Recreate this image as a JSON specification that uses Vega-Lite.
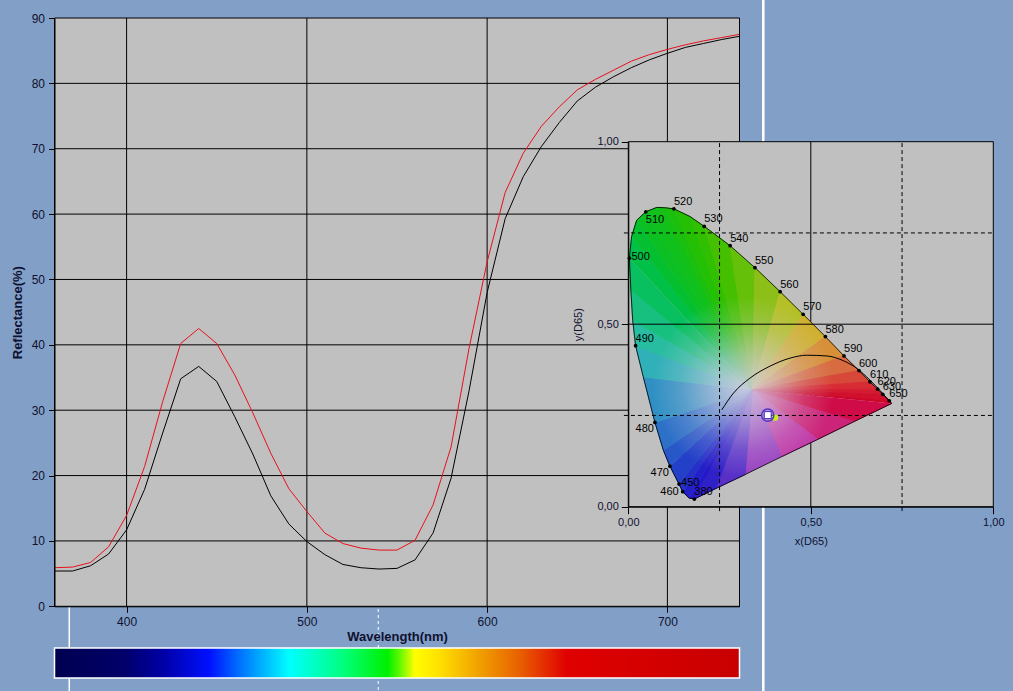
{
  "$schema": "https://vega.github.io/schema/vega-lite/v6.json",
  "width": 1013,
  "height": 691,
  "autosize": "none",
  "padding": 0,
  "background": "#82a0c7",
  "config": {
    "view": {"stroke": null},
    "font": "Liberation Sans",
    "axis": {
      "labelColor": "#101030",
      "titleColor": "#101030",
      "tickColor": "#000000",
      "domainColor": "#000000",
      "labelFlush": false,
      "labelOverlap": false,
      "grid": false,
      "domainWidth": 1,
      "tickWidth": 1
    }
  },
  "datasets": {
    "refl": [
      {"wl": 360, "v": 5.4, "s": "b"}, {"wl": 370, "v": 5.4, "s": "b"}, {"wl": 380, "v": 6.2, "s": "b"},
      {"wl": 390, "v": 8.0, "s": "b"}, {"wl": 400, "v": 11.7, "s": "b"}, {"wl": 410, "v": 17.9, "s": "b"},
      {"wl": 420, "v": 26.5, "s": "b"}, {"wl": 430, "v": 34.8, "s": "b"}, {"wl": 440, "v": 36.7, "s": "b"},
      {"wl": 450, "v": 34.4, "s": "b"}, {"wl": 460, "v": 29.0, "s": "b"}, {"wl": 470, "v": 23.3, "s": "b"},
      {"wl": 480, "v": 16.9, "s": "b"}, {"wl": 490, "v": 12.6, "s": "b"}, {"wl": 500, "v": 9.9, "s": "b"},
      {"wl": 510, "v": 7.9, "s": "b"}, {"wl": 520, "v": 6.4, "s": "b"}, {"wl": 530, "v": 5.9, "s": "b"},
      {"wl": 540, "v": 5.7, "s": "b"}, {"wl": 550, "v": 5.8, "s": "b"}, {"wl": 560, "v": 7.1, "s": "b"},
      {"wl": 570, "v": 11.2, "s": "b"}, {"wl": 580, "v": 19.6, "s": "b"}, {"wl": 590, "v": 33.0, "s": "b"},
      {"wl": 600, "v": 48.0, "s": "b"}, {"wl": 610, "v": 59.3, "s": "b"}, {"wl": 620, "v": 65.7, "s": "b"},
      {"wl": 630, "v": 70.3, "s": "b"}, {"wl": 640, "v": 74.0, "s": "b"}, {"wl": 650, "v": 77.3, "s": "b"},
      {"wl": 660, "v": 79.4, "s": "b"}, {"wl": 670, "v": 81.0, "s": "b"}, {"wl": 680, "v": 82.4, "s": "b"},
      {"wl": 690, "v": 83.6, "s": "b"}, {"wl": 700, "v": 84.6, "s": "b"}, {"wl": 710, "v": 85.5, "s": "b"},
      {"wl": 720, "v": 86.1, "s": "b"}, {"wl": 730, "v": 86.7, "s": "b"}, {"wl": 740, "v": 87.2, "s": "b"},
      {"wl": 360, "v": 5.9, "s": "r"}, {"wl": 370, "v": 6.0, "s": "r"}, {"wl": 380, "v": 6.7, "s": "r"},
      {"wl": 390, "v": 9.1, "s": "r"}, {"wl": 400, "v": 13.9, "s": "r"}, {"wl": 410, "v": 21.4, "s": "r"},
      {"wl": 420, "v": 31.3, "s": "r"}, {"wl": 430, "v": 40.2, "s": "r"}, {"wl": 440, "v": 42.5, "s": "r"},
      {"wl": 450, "v": 40.2, "s": "r"}, {"wl": 460, "v": 35.4, "s": "r"}, {"wl": 470, "v": 29.6, "s": "r"},
      {"wl": 480, "v": 23.4, "s": "r"}, {"wl": 490, "v": 18.0, "s": "r"}, {"wl": 500, "v": 14.5, "s": "r"},
      {"wl": 510, "v": 11.2, "s": "r"}, {"wl": 520, "v": 9.6, "s": "r"}, {"wl": 530, "v": 8.9, "s": "r"},
      {"wl": 540, "v": 8.6, "s": "r"}, {"wl": 550, "v": 8.6, "s": "r"}, {"wl": 560, "v": 10.1, "s": "r"},
      {"wl": 570, "v": 15.5, "s": "r"}, {"wl": 580, "v": 24.4, "s": "r"}, {"wl": 590, "v": 39.5, "s": "r"},
      {"wl": 600, "v": 52.7, "s": "r"}, {"wl": 610, "v": 63.3, "s": "r"}, {"wl": 620, "v": 69.3, "s": "r"},
      {"wl": 630, "v": 73.4, "s": "r"}, {"wl": 640, "v": 76.4, "s": "r"}, {"wl": 650, "v": 79.0, "s": "r"},
      {"wl": 660, "v": 80.6, "s": "r"}, {"wl": 670, "v": 82.0, "s": "r"}, {"wl": 680, "v": 83.4, "s": "r"},
      {"wl": 690, "v": 84.4, "s": "r"}, {"wl": 700, "v": 85.2, "s": "r"}, {"wl": 710, "v": 85.9, "s": "r"},
      {"wl": 720, "v": 86.5, "s": "r"}, {"wl": 730, "v": 87.0, "s": "r"}, {"wl": 740, "v": 87.5, "s": "r"}
    ],
    "mgy": [{"v": 10}, {"v": 20}, {"v": 30}, {"v": 40}, {"v": 50}, {"v": 60}, {"v": 70}, {"v": 80}],
    "mgx": [{"w": 400}, {"w": 500}, {"w": 600}, {"w": 700}],
    "ig": [{"g": 0.25}, {"g": 0.75}],
    "outline": [
      {"o": 1, "x": 0.181, "y": 0.021}, {"o": 2, "x": 0.166, "y": 0.024}, {"o": 3, "x": 0.149, "y": 0.041},
      {"o": 4, "x": 0.139, "y": 0.062}, {"o": 5, "x": 0.114, "y": 0.111}, {"o": 6, "x": 0.096, "y": 0.155},
      {"o": 7, "x": 0.073, "y": 0.231}, {"o": 8, "x": 0.041, "y": 0.356}, {"o": 9, "x": 0.020, "y": 0.441},
      {"o": 10, "x": 0.012, "y": 0.511}, {"o": 11, "x": 0.007, "y": 0.594}, {"o": 12, "x": 0.003, "y": 0.681},
      {"o": 13, "x": 0.009, "y": 0.740}, {"o": 14, "x": 0.023, "y": 0.785}, {"o": 15, "x": 0.048, "y": 0.808},
      {"o": 16, "x": 0.078, "y": 0.820}, {"o": 17, "x": 0.101, "y": 0.819}, {"o": 18, "x": 0.125, "y": 0.816},
      {"o": 19, "x": 0.169, "y": 0.795}, {"o": 20, "x": 0.208, "y": 0.768}, {"o": 21, "x": 0.279, "y": 0.715},
      {"o": 22, "x": 0.347, "y": 0.655}, {"o": 23, "x": 0.416, "y": 0.589}, {"o": 24, "x": 0.479, "y": 0.527},
      {"o": 25, "x": 0.540, "y": 0.466}, {"o": 26, "x": 0.591, "y": 0.413}, {"o": 27, "x": 0.632, "y": 0.373},
      {"o": 28, "x": 0.662, "y": 0.342}, {"o": 29, "x": 0.683, "y": 0.322}, {"o": 30, "x": 0.697, "y": 0.308},
      {"o": 31, "x": 0.715, "y": 0.290}, {"o": 32, "x": 0.722, "y": 0.283}, {"o": 33, "x": 0.620, "y": 0.234},
      {"o": 34, "x": 0.520, "y": 0.185}, {"o": 35, "x": 0.420, "y": 0.137}, {"o": 36, "x": 0.320, "y": 0.088},
      {"o": 37, "x": 0.240, "y": 0.050}, {"o": 38, "x": 0.181, "y": 0.021}
    ],
    "fan": [
      {"t": 1, "x": 0.34, "y": 0.32, "c": "#2418c8"}, {"t": 1, "x": 0.181, "y": 0.021, "c": "#2418c8"}, {"t": 1, "x": 0.166, "y": 0.024, "c": "#2418c8"},
      {"t": 2, "x": 0.34, "y": 0.32, "c": "#2420c8"}, {"t": 2, "x": 0.166, "y": 0.024, "c": "#2420c8"}, {"t": 2, "x": 0.149, "y": 0.041, "c": "#2420c8"},
      {"t": 3, "x": 0.34, "y": 0.32, "c": "#2430c8"}, {"t": 3, "x": 0.149, "y": 0.041, "c": "#2430c8"}, {"t": 3, "x": 0.139, "y": 0.062, "c": "#2430c8"},
      {"t": 4, "x": 0.34, "y": 0.32, "c": "#2240c8"}, {"t": 4, "x": 0.139, "y": 0.062, "c": "#2240c8"}, {"t": 4, "x": 0.114, "y": 0.111, "c": "#2240c8"},
      {"t": 5, "x": 0.34, "y": 0.32, "c": "#2858c8"}, {"t": 5, "x": 0.114, "y": 0.111, "c": "#2858c8"}, {"t": 5, "x": 0.096, "y": 0.155, "c": "#2858c8"},
      {"t": 6, "x": 0.34, "y": 0.32, "c": "#2c70c8"}, {"t": 6, "x": 0.096, "y": 0.155, "c": "#2c70c8"}, {"t": 6, "x": 0.073, "y": 0.231, "c": "#2c70c8"},
      {"t": 7, "x": 0.34, "y": 0.32, "c": "#3090c4"}, {"t": 7, "x": 0.073, "y": 0.231, "c": "#3090c4"}, {"t": 7, "x": 0.041, "y": 0.356, "c": "#3090c4"},
      {"t": 8, "x": 0.34, "y": 0.32, "c": "#30b0b8"}, {"t": 8, "x": 0.041, "y": 0.356, "c": "#30b0b8"}, {"t": 8, "x": 0.020, "y": 0.441, "c": "#30b0b8"},
      {"t": 9, "x": 0.34, "y": 0.32, "c": "#28bca0"}, {"t": 9, "x": 0.020, "y": 0.441, "c": "#28bca0"}, {"t": 9, "x": 0.012, "y": 0.511, "c": "#28bca0"},
      {"t": 10, "x": 0.34, "y": 0.32, "c": "#18c080"}, {"t": 10, "x": 0.012, "y": 0.511, "c": "#18c080"}, {"t": 10, "x": 0.007, "y": 0.594, "c": "#18c080"},
      {"t": 11, "x": 0.34, "y": 0.32, "c": "#08c060"}, {"t": 11, "x": 0.007, "y": 0.594, "c": "#08c060"}, {"t": 11, "x": 0.003, "y": 0.681, "c": "#08c060"},
      {"t": 12, "x": 0.34, "y": 0.32, "c": "#00c048"}, {"t": 12, "x": 0.003, "y": 0.681, "c": "#00c048"}, {"t": 12, "x": 0.009, "y": 0.740, "c": "#00c048"},
      {"t": 13, "x": 0.34, "y": 0.32, "c": "#04c030"}, {"t": 13, "x": 0.009, "y": 0.740, "c": "#04c030"}, {"t": 13, "x": 0.023, "y": 0.785, "c": "#04c030"},
      {"t": 14, "x": 0.34, "y": 0.32, "c": "#0cc024"}, {"t": 14, "x": 0.023, "y": 0.785, "c": "#0cc024"}, {"t": 14, "x": 0.048, "y": 0.808, "c": "#0cc024"},
      {"t": 15, "x": 0.34, "y": 0.32, "c": "#10c01c"}, {"t": 15, "x": 0.048, "y": 0.808, "c": "#10c01c"}, {"t": 15, "x": 0.078, "y": 0.820, "c": "#10c01c"},
      {"t": 16, "x": 0.34, "y": 0.32, "c": "#14c014"}, {"t": 16, "x": 0.078, "y": 0.820, "c": "#14c014"}, {"t": 16, "x": 0.101, "y": 0.819, "c": "#14c014"},
      {"t": 17, "x": 0.34, "y": 0.32, "c": "#1cc00c"}, {"t": 17, "x": 0.101, "y": 0.819, "c": "#1cc00c"}, {"t": 17, "x": 0.125, "y": 0.816, "c": "#1cc00c"},
      {"t": 18, "x": 0.34, "y": 0.32, "c": "#24c004"}, {"t": 18, "x": 0.125, "y": 0.816, "c": "#24c004"}, {"t": 18, "x": 0.169, "y": 0.795, "c": "#24c004"},
      {"t": 19, "x": 0.34, "y": 0.32, "c": "#30c000"}, {"t": 19, "x": 0.169, "y": 0.795, "c": "#30c000"}, {"t": 19, "x": 0.208, "y": 0.768, "c": "#30c000"},
      {"t": 20, "x": 0.34, "y": 0.32, "c": "#44c000"}, {"t": 20, "x": 0.208, "y": 0.768, "c": "#44c000"}, {"t": 20, "x": 0.279, "y": 0.715, "c": "#44c000"},
      {"t": 21, "x": 0.34, "y": 0.32, "c": "#64c008"}, {"t": 21, "x": 0.279, "y": 0.715, "c": "#64c008"}, {"t": 21, "x": 0.347, "y": 0.655, "c": "#64c008"},
      {"t": 22, "x": 0.34, "y": 0.32, "c": "#8cc018"}, {"t": 22, "x": 0.347, "y": 0.655, "c": "#8cc018"}, {"t": 22, "x": 0.416, "y": 0.589, "c": "#8cc018"},
      {"t": 23, "x": 0.34, "y": 0.32, "c": "#b4c028"}, {"t": 23, "x": 0.416, "y": 0.589, "c": "#b4c028"}, {"t": 23, "x": 0.479, "y": 0.527, "c": "#b4c028"},
      {"t": 24, "x": 0.34, "y": 0.32, "c": "#d0b030"}, {"t": 24, "x": 0.479, "y": 0.527, "c": "#d0b030"}, {"t": 24, "x": 0.540, "y": 0.466, "c": "#d0b030"},
      {"t": 25, "x": 0.34, "y": 0.32, "c": "#d89038"}, {"t": 25, "x": 0.540, "y": 0.466, "c": "#d89038"}, {"t": 25, "x": 0.591, "y": 0.413, "c": "#d89038"},
      {"t": 26, "x": 0.34, "y": 0.32, "c": "#d86c40"}, {"t": 26, "x": 0.591, "y": 0.413, "c": "#d86c40"}, {"t": 26, "x": 0.632, "y": 0.373, "c": "#d86c40"},
      {"t": 27, "x": 0.34, "y": 0.32, "c": "#d84838"}, {"t": 27, "x": 0.632, "y": 0.373, "c": "#d84838"}, {"t": 27, "x": 0.662, "y": 0.342, "c": "#d84838"},
      {"t": 28, "x": 0.34, "y": 0.32, "c": "#d82c34"}, {"t": 28, "x": 0.662, "y": 0.342, "c": "#d82c34"}, {"t": 28, "x": 0.683, "y": 0.322, "c": "#d82c34"},
      {"t": 29, "x": 0.34, "y": 0.32, "c": "#d41c30"}, {"t": 29, "x": 0.683, "y": 0.322, "c": "#d41c30"}, {"t": 29, "x": 0.697, "y": 0.308, "c": "#d41c30"},
      {"t": 30, "x": 0.34, "y": 0.32, "c": "#d0102c"}, {"t": 30, "x": 0.697, "y": 0.308, "c": "#d0102c"}, {"t": 30, "x": 0.715, "y": 0.290, "c": "#d0102c"},
      {"t": 31, "x": 0.34, "y": 0.32, "c": "#d0042a"}, {"t": 31, "x": 0.715, "y": 0.290, "c": "#d0042a"}, {"t": 31, "x": 0.722, "y": 0.283, "c": "#d0042a"},
      {"t": 32, "x": 0.34, "y": 0.32, "c": "#d00c48"}, {"t": 32, "x": 0.722, "y": 0.283, "c": "#d00c48"}, {"t": 32, "x": 0.620, "y": 0.234, "c": "#d00c48"},
      {"t": 33, "x": 0.34, "y": 0.32, "c": "#cc2478"}, {"t": 33, "x": 0.620, "y": 0.234, "c": "#cc2478"}, {"t": 33, "x": 0.520, "y": 0.185, "c": "#cc2478"},
      {"t": 34, "x": 0.34, "y": 0.32, "c": "#c038a8"}, {"t": 34, "x": 0.520, "y": 0.185, "c": "#c038a8"}, {"t": 34, "x": 0.420, "y": 0.137, "c": "#c038a8"},
      {"t": 35, "x": 0.34, "y": 0.32, "c": "#9840c0"}, {"t": 35, "x": 0.420, "y": 0.137, "c": "#9840c0"}, {"t": 35, "x": 0.320, "y": 0.088, "c": "#9840c0"},
      {"t": 36, "x": 0.34, "y": 0.32, "c": "#5830c8"}, {"t": 36, "x": 0.320, "y": 0.088, "c": "#5830c8"}, {"t": 36, "x": 0.240, "y": 0.050, "c": "#5830c8"},
      {"t": 37, "x": 0.34, "y": 0.32, "c": "#3020c8"}, {"t": 37, "x": 0.240, "y": 0.050, "c": "#3020c8"}, {"t": 37, "x": 0.181, "y": 0.021, "c": "#3020c8"}
    ],
    "dots": [
      {"wl": 380, "x": 0.181, "y": 0.021}, {"wl": 450, "x": 0.139, "y": 0.062}, {"wl": 460, "x": 0.149, "y": 0.041},
      {"wl": 470, "x": 0.114, "y": 0.111}, {"wl": 480, "x": 0.073, "y": 0.231}, {"wl": 490, "x": 0.020, "y": 0.441},
      {"wl": 500, "x": 0.003, "y": 0.681}, {"wl": 510, "x": 0.048, "y": 0.808}, {"wl": 520, "x": 0.125, "y": 0.816},
      {"wl": 530, "x": 0.208, "y": 0.768}, {"wl": 540, "x": 0.279, "y": 0.715}, {"wl": 550, "x": 0.347, "y": 0.655},
      {"wl": 560, "x": 0.416, "y": 0.589}, {"wl": 570, "x": 0.479, "y": 0.527}, {"wl": 580, "x": 0.540, "y": 0.466},
      {"wl": 590, "x": 0.591, "y": 0.413}, {"wl": 600, "x": 0.632, "y": 0.373}, {"wl": 610, "x": 0.662, "y": 0.342},
      {"wl": 620, "x": 0.683, "y": 0.322}, {"wl": 630, "x": 0.697, "y": 0.308}, {"wl": 650, "x": 0.715, "y": 0.290}
    ],
    "curve": [
      {"x": 0.256, "y": 0.265}, {"x": 0.288, "y": 0.311}, {"x": 0.333, "y": 0.352}, {"x": 0.388, "y": 0.385},
      {"x": 0.443, "y": 0.407}, {"x": 0.489, "y": 0.415}, {"x": 0.544, "y": 0.413}, {"x": 0.589, "y": 0.400},
      {"x": 0.626, "y": 0.379}, {"x": 0.662, "y": 0.347}, {"x": 0.690, "y": 0.318}, {"x": 0.717, "y": 0.288}
    ],
    "sample": [{"x": 0.382, "y": 0.251}],
    "target": [{"x": 0.402, "y": 0.244}]
  },
  "resolve": {
    "scale": {"x": "independent", "y": "independent"},
    "axis": {"x": "independent", "y": "independent"}
  },
  "layer": [
    {
      "data": {"values": [{}]},
      "layer": [
        {
          "mark": {"type": "rule", "color": "#ffffff", "strokeWidth": 2.5},
          "encoding": {
            "x": {"datum": 753.2, "type": "quantitative", "scale": {"domain": [360, 740], "range": [54.5, 739.5], "nice": false, "zero": false}, "axis": null},
            "y": {"datum": -1, "type": "quantitative", "scale": {"domain": [0, 1], "range": [678, 648], "nice": false, "zero": false}, "axis": null},
            "y2": {"datum": 24}
          }
        },
        {
          "mark": {"type": "rule", "color": "#ffffff", "strokeWidth": 1.5},
          "encoding": {
            "x": {"datum": 368.2, "type": "quantitative", "scale": {"domain": [360, 740], "range": [54.5, 739.5], "nice": false, "zero": false}, "axis": null},
            "y": {"datum": -1, "type": "quantitative", "scale": {"domain": [0, 1], "range": [678, 648], "nice": false, "zero": false}, "axis": null},
            "y2": {"datum": 2.4}
          }
        },
        {
          "mark": {"type": "rule", "color": "#ffffff", "strokeWidth": 1, "strokeDash": [3, 3]},
          "encoding": {
            "x": {"datum": 539.6, "type": "quantitative", "scale": {"domain": [360, 740], "range": [54.5, 739.5], "nice": false, "zero": false}, "axis": null},
            "y": {"datum": -1, "type": "quantitative", "scale": {"domain": [0, 1], "range": [678, 648], "nice": false, "zero": false}, "axis": null},
            "y2": {"datum": 2.4}
          }
        },
        {
          "mark": {
            "type": "rect",
            "stroke": "#ffffff",
            "strokeWidth": 1.5,
            "fill": {
              "gradient": "linear",
              "x1": 0, "y1": 0, "x2": 1, "y2": 0,
              "stops": [
                {"offset": 0, "color": "#000050"},
                {"offset": 0.1, "color": "#000068"},
                {"offset": 0.16, "color": "#0000a8"},
                {"offset": 0.226, "color": "#0010ff"},
                {"offset": 0.27, "color": "#0070ff"},
                {"offset": 0.343, "color": "#00ffff"},
                {"offset": 0.42, "color": "#00ff80"},
                {"offset": 0.486, "color": "#00f000"},
                {"offset": 0.504, "color": "#60f800"},
                {"offset": 0.526, "color": "#ffff00"},
                {"offset": 0.562, "color": "#ffe000"},
                {"offset": 0.62, "color": "#f0a000"},
                {"offset": 0.679, "color": "#e86000"},
                {"offset": 0.748, "color": "#e00000"},
                {"offset": 1, "color": "#c80000"}
              ]
            }
          },
          "encoding": {
            "x": {"datum": 360, "type": "quantitative", "scale": {"domain": [360, 740], "range": [54.5, 739.5], "nice": false, "zero": false}, "axis": null},
            "x2": {"datum": 740},
            "y": {"datum": 0, "type": "quantitative", "scale": {"domain": [0, 1], "range": [678, 648], "nice": false, "zero": false}, "axis": null},
            "y2": {"datum": 1}
          }
        }
      ]
    },
    {
      "layer": [
        {
          "data": {"values": [{}]},
          "mark": {"type": "rect", "fill": "#c0c0c0"},
          "encoding": {
            "x": {
              "datum": 360, "type": "quantitative",
              "scale": {"domain": [360, 740], "range": [54.5, 739.5], "nice": false, "zero": false},
              "axis": {"orient": "bottom", "offset": -84.7, "values": [400, 500, 600, 700], "title": "Wavelength(nm)", "titleFontSize": 13, "titleFontWeight": "bold", "labelFontSize": 12, "tickSize": 6, "labelPadding": 4, "titlePadding": 3, "zindex": 1}
            },
            "x2": {"datum": 740},
            "y": {
              "datum": 0, "type": "quantitative",
              "scale": {"domain": [0, 90], "range": [606.3, 18], "nice": false, "zero": false},
              "axis": {"orient": "left", "offset": -54.5, "values": [0, 10, 20, 30, 40, 50, 60, 70, 80, 90], "title": "Reflectance(%)", "titleFontSize": 13, "titleFontWeight": "bold", "labelFontSize": 12, "tickSize": 6, "labelPadding": 4, "titlePadding": 7, "zindex": 1}
            },
            "y2": {"datum": 90}
          }
        },
        {
          "data": {"name": "mgy"},
          "mark": {"type": "rule", "color": "#000000", "strokeWidth": 1},
          "encoding": {
            "x": {"datum": 360, "type": "quantitative", "scale": {"domain": [360, 740], "range": [54.5, 739.5], "nice": false, "zero": false}},
            "x2": {"datum": 740},
            "y": {"field": "v", "type": "quantitative", "scale": {"domain": [0, 90], "range": [606.3, 18], "nice": false, "zero": false}}
          }
        },
        {
          "data": {"name": "mgx"},
          "mark": {"type": "rule", "color": "#000000", "strokeWidth": 1},
          "encoding": {
            "x": {"field": "w", "type": "quantitative", "scale": {"domain": [360, 740], "range": [54.5, 739.5], "nice": false, "zero": false}},
            "y": {"datum": 0, "type": "quantitative", "scale": {"domain": [0, 90], "range": [606.3, 18], "nice": false, "zero": false}},
            "y2": {"datum": 90}
          }
        },
        {
          "data": {"name": "refl"},
          "mark": {"type": "line", "strokeWidth": 1},
          "encoding": {
            "x": {"field": "wl", "type": "quantitative", "scale": {"domain": [360, 740], "range": [54.5, 739.5], "nice": false, "zero": false}},
            "y": {"field": "v", "type": "quantitative", "scale": {"domain": [0, 90], "range": [606.3, 18], "nice": false, "zero": false}},
            "color": {"field": "s", "type": "nominal", "scale": {"domain": ["b", "r"], "range": ["#000000", "#e8101c"]}, "legend": null}
          }
        },
        {
          "data": {"values": [{}]},
          "mark": {"type": "rect", "fillOpacity": 0, "stroke": "#000000", "strokeWidth": 1},
          "encoding": {
            "x": {"datum": 360, "type": "quantitative", "scale": {"domain": [360, 740], "range": [54.5, 739.5], "nice": false, "zero": false}},
            "x2": {"datum": 740},
            "y": {"datum": 0, "type": "quantitative", "scale": {"domain": [0, 90], "range": [606.3, 18], "nice": false, "zero": false}},
            "y2": {"datum": 90}
          }
        }
      ]
    },
    {
      "layer": [
        {
          "data": {"values": [{}]},
          "mark": {"type": "rect", "fill": "#c0c0c0", "stroke": "#000000", "strokeWidth": 1},
          "encoding": {
            "x": {
              "datum": 0, "type": "quantitative",
              "scale": {"domain": [0, 1], "range": [628.3, 993.3], "nice": false, "zero": false},
              "axis": {"orient": "bottom", "offset": -184.3, "values": [0, 0.5, 1], "labelExpr": "replace(format(datum.value, '.2f'), '.', ',')", "title": "x(D65)", "titleFontSize": 11, "titleFontWeight": "normal", "labelFontSize": 11, "tickSize": 7, "labelPadding": 3, "titlePadding": 8, "zindex": 1}
            },
            "x2": {"datum": 1},
            "y": {
              "datum": 0, "type": "quantitative",
              "scale": {"domain": [0, 1], "range": [506.7, 141.7], "nice": false, "zero": false},
              "axis": {"orient": "left", "offset": -628.3, "values": [0, 0.5, 1], "labelExpr": "replace(format(datum.value, '.2f'), '.', ',')", "title": "y(D65)", "titleFontSize": 11, "titleFontWeight": "normal", "labelFontSize": 11, "tickSize": 7, "labelPadding": 3, "titlePadding": 13, "zindex": 1}
            },
            "y2": {"datum": 1}
          }
        },
        {
          "data": {"values": [{}]},
          "mark": {"type": "rule", "color": "#000000", "strokeWidth": 1},
          "encoding": {
            "x": {"datum": 0.5, "type": "quantitative", "scale": {"domain": [0, 1], "range": [628.3, 993.3], "nice": false, "zero": false}},
            "y": {"datum": 0, "type": "quantitative", "scale": {"domain": [0, 1], "range": [506.7, 141.7], "nice": false, "zero": false}},
            "y2": {"datum": 1}
          }
        },
        {
          "data": {"name": "fan"},
          "mark": {"type": "line", "filled": true, "strokeWidth": 1},
          "encoding": {
            "x": {"field": "x", "type": "quantitative", "scale": {"domain": [0, 1], "range": [628.3, 993.3], "nice": false, "zero": false}},
            "y": {"field": "y", "type": "quantitative", "scale": {"domain": [0, 1], "range": [506.7, 141.7], "nice": false, "zero": false}},
            "detail": {"field": "t", "type": "nominal"},
            "color": {"field": "c", "type": "nominal", "scale": null},
            "stroke": {"field": "c", "type": "nominal", "scale": null}
          }
        },
        {
          "data": {"name": "outline"},
          "mark": {
            "type": "line",
            "filled": true,
            "strokeOpacity": 0,
            "fill": {
              "gradient": "radial",
              "x1": 0.441, "y1": 0.613, "r1": 0,
              "x2": 0.441, "y2": 0.613, "r2": 0.31,
              "stops": [
                {"offset": 0, "color": "rgba(214,206,224,0.9)"},
                {"offset": 0.35, "color": "rgba(214,206,224,0.6)"},
                {"offset": 0.7, "color": "rgba(214,206,224,0.22)"},
                {"offset": 1, "color": "rgba(214,206,224,0)"}
              ]
            }
          },
          "encoding": {
            "x": {"field": "x", "type": "quantitative", "scale": {"domain": [0, 1], "range": [628.3, 993.3], "nice": false, "zero": false}},
            "y": {"field": "y", "type": "quantitative", "scale": {"domain": [0, 1], "range": [506.7, 141.7], "nice": false, "zero": false}},
            "order": {"field": "o", "type": "quantitative"}
          }
        },
        {
          "data": {"name": "outline"},
          "mark": {"type": "line", "color": "#000000", "strokeWidth": 0.8},
          "encoding": {
            "x": {"field": "x", "type": "quantitative", "scale": {"domain": [0, 1], "range": [628.3, 993.3], "nice": false, "zero": false}},
            "y": {"field": "y", "type": "quantitative", "scale": {"domain": [0, 1], "range": [506.7, 141.7], "nice": false, "zero": false}},
            "order": {"field": "o", "type": "quantitative"}
          }
        },
        {
          "data": {"values": [{}]},
          "mark": {"type": "rule", "color": "#000000", "strokeWidth": 1},
          "encoding": {
            "x": {"datum": 0, "type": "quantitative", "scale": {"domain": [0, 1], "range": [628.3, 993.3], "nice": false, "zero": false}},
            "x2": {"datum": 1},
            "y": {"datum": 0.5, "type": "quantitative", "scale": {"domain": [0, 1], "range": [506.7, 141.7], "nice": false, "zero": false}}
          }
        },
        {
          "data": {"name": "ig"},
          "mark": {"type": "rule", "color": "#000000", "strokeWidth": 1, "strokeDash": [4, 3]},
          "encoding": {
            "x": {"field": "g", "type": "quantitative", "scale": {"domain": [0, 1], "range": [628.3, 993.3], "nice": false, "zero": false}},
            "y": {"datum": -0.012, "type": "quantitative", "scale": {"domain": [0, 1], "range": [506.7, 141.7], "nice": false, "zero": false}},
            "y2": {"datum": 1}
          }
        },
        {
          "data": {"name": "ig"},
          "mark": {"type": "rule", "color": "#000000", "strokeWidth": 1, "strokeDash": [4, 3]},
          "encoding": {
            "x": {"datum": -0.012, "type": "quantitative", "scale": {"domain": [0, 1], "range": [628.3, 993.3], "nice": false, "zero": false}},
            "x2": {"datum": 1},
            "y": {"field": "g", "type": "quantitative", "scale": {"domain": [0, 1], "range": [506.7, 141.7], "nice": false, "zero": false}}
          }
        },
        {
          "data": {"name": "curve"},
          "mark": {"type": "line", "color": "#000000", "strokeWidth": 1, "interpolate": "monotone"},
          "encoding": {
            "x": {"field": "x", "type": "quantitative", "scale": {"domain": [0, 1], "range": [628.3, 993.3], "nice": false, "zero": false}},
            "y": {"field": "y", "type": "quantitative", "scale": {"domain": [0, 1], "range": [506.7, 141.7], "nice": false, "zero": false}}
          }
        },
        {
          "data": {"name": "dots"},
          "layer": [
            {
              "mark": {"type": "point", "filled": true, "color": "#000000", "size": 14, "opacity": 1}
            },
            {
              "transform": [{"filter": "datum.wl == 380 || datum.wl == 490 || datum.wl >= 520"}],
              "mark": {"type": "text", "align": "left", "baseline": "middle", "dx": 0, "dy": -7, "fontSize": 11, "color": "#000000"},
              "encoding": {"text": {"field": "wl", "type": "nominal"}}
            },
            {
              "transform": [{"filter": "datum.wl == 500 || datum.wl == 450"}],
              "mark": {"type": "text", "align": "left", "baseline": "middle", "dx": 2, "dy": -1, "fontSize": 11, "color": "#000000"},
              "encoding": {"text": {"field": "wl", "type": "nominal"}}
            },
            {
              "transform": [{"filter": "datum.wl == 510"}],
              "mark": {"type": "text", "align": "left", "baseline": "middle", "dx": 0, "dy": 8, "fontSize": 11, "color": "#000000"},
              "encoding": {"text": {"field": "wl", "type": "nominal"}}
            },
            {
              "transform": [{"filter": "datum.wl == 480 || datum.wl == 470"}],
              "mark": {"type": "text", "align": "right", "baseline": "middle", "dx": -1, "dy": 7, "fontSize": 11, "color": "#000000"},
              "encoding": {"text": {"field": "wl", "type": "nominal"}}
            },
            {
              "transform": [{"filter": "datum.wl == 460"}],
              "mark": {"type": "text", "align": "right", "baseline": "middle", "dx": -4, "dy": 0, "fontSize": 11, "color": "#000000"},
              "encoding": {"text": {"field": "wl", "type": "nominal"}}
            }
          ],
          "encoding": {
            "x": {"field": "x", "type": "quantitative", "scale": {"domain": [0, 1], "range": [628.3, 993.3], "nice": false, "zero": false}},
            "y": {"field": "y", "type": "quantitative", "scale": {"domain": [0, 1], "range": [506.7, 141.7], "nice": false, "zero": false}}
          }
        },
        {
          "data": {"name": "target"},
          "mark": {"type": "point", "filled": true, "color": "#c8f018", "size": 40, "opacity": 1},
          "encoding": {
            "x": {"field": "x", "type": "quantitative", "scale": {"domain": [0, 1], "range": [628.3, 993.3], "nice": false, "zero": false}},
            "y": {"field": "y", "type": "quantitative", "scale": {"domain": [0, 1], "range": [506.7, 141.7], "nice": false, "zero": false}}
          }
        },
        {
          "data": {"name": "sample"},
          "layer": [
            {"mark": {"type": "point", "shape": "circle", "filled": false, "color": "#4a3cc8", "strokeWidth": 1.5, "size": 150, "opacity": 1}},
            {"mark": {"type": "point", "shape": "square", "filled": true, "fill": "#ffffff", "stroke": "#3c30c0", "strokeWidth": 1, "size": 48, "opacity": 1}}
          ],
          "encoding": {
            "x": {"field": "x", "type": "quantitative", "scale": {"domain": [0, 1], "range": [628.3, 993.3], "nice": false, "zero": false}},
            "y": {"field": "y", "type": "quantitative", "scale": {"domain": [0, 1], "range": [506.7, 141.7], "nice": false, "zero": false}}
          }
        }
      ]
    }
  ]
}
